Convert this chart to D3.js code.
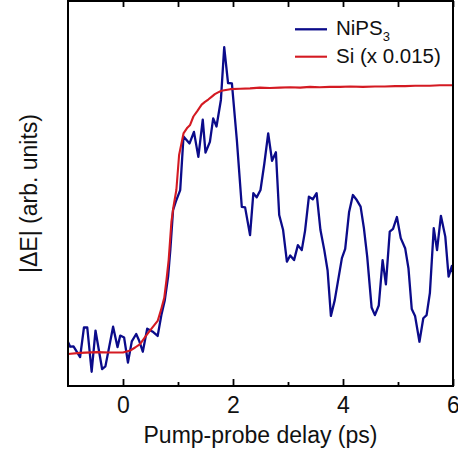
<!DOCTYPE html>
<html>
<head>
<meta charset="utf-8">
<script src="https://cdn.jsdelivr.net/npm/d3@7"></script>
<style>
  html, body { margin: 0; padding: 0; background: #fff; }
  svg { display: block; font-family: "Liberation Sans", Arial, Helvetica, sans-serif; }
</style>
</head>
<body>
<svg id="chart" width="458" height="456"></svg>
<script>
// ---- data ----
const nipsDelay = [-1.00,-0.96,-0.90,-0.78,-0.71,-0.65,-0.57,-0.50,-0.38,-0.32,-0.18,-0.10,-0.05,0.02,0.09,0.16,0.24,0.29,0.36,0.44,0.55,0.63,0.70,0.76,0.82,0.86,0.91,0.96,1.04,1.10,1.21,1.29,1.37,1.45,1.50,1.58,1.64,1.70,1.78,1.84,1.91,1.98,2.07,2.16,2.22,2.31,2.37,2.43,2.50,2.57,2.64,2.71,2.78,2.84,2.91,2.98,3.04,3.11,3.18,3.25,3.31,3.38,3.45,3.52,3.59,3.66,3.72,3.78,3.85,3.98,4.04,4.11,4.18,4.25,4.32,4.38,4.44,4.52,4.58,4.65,4.72,4.78,4.85,4.91,4.98,5.05,5.13,5.19,5.25,5.31,5.39,5.46,5.52,5.58,5.65,5.71,5.78,5.86,5.92,5.98,6.02];
const nipsSignal = [11.4,10.2,10.3,7.5,15.2,15.2,3.7,14.4,4.4,5.1,15.4,10.1,13.1,12.6,6.1,11.6,13.5,11.9,8.9,14.9,14.0,13.0,18.6,22.3,28.4,35.3,45.7,47.9,50.9,64.8,63.0,66.0,59.5,69.2,60.6,63.4,69.5,67.4,74.3,88.0,78.7,78.6,63.9,46.5,46.4,39.2,50.1,49.0,50.9,57.8,65.6,58.5,60.7,44.4,40.6,32.3,33.9,32.7,36.6,35.3,40.3,49.2,48.5,50.1,40.5,35.3,30.0,18.2,22.3,33.2,35.6,45.1,49.6,48.3,46.6,41.0,33.6,20.4,18.4,20.9,32.7,26.4,40.1,40.8,43.9,38.4,35.8,30.6,20.0,18.2,11.5,17.6,18.4,24.2,41.0,35.3,44.2,38.8,28.4,31.2,27.5];

const siDelay = [-1.00,-0.78,-0.47,-0.24,0.00,0.13,0.22,0.31,0.42,0.54,0.63,0.69,0.75,0.79,0.83,0.88,0.92,0.97,1.02,1.10,1.17,1.22,1.28,1.35,1.43,1.49,1.55,1.61,1.67,1.72,1.79,1.87,1.95,2.13,2.31,2.49,2.67,2.85,3.04,3.22,3.40,3.58,3.76,3.95,4.13,4.36,4.58,4.76,4.95,5.13,5.31,5.58,5.76,6.00];
const siSignal = [8.3,8.6,8.8,8.7,8.7,9.2,10.0,10.9,13.1,15.3,16.9,19.7,22.9,27.5,32.7,42.6,46.8,50.9,60.0,65.6,67.1,67.8,70.0,71.4,73.1,73.8,74.4,75.1,75.8,76.2,76.7,76.9,77.1,77.2,77.3,77.5,77.4,77.5,77.6,77.5,77.7,77.6,77.7,77.7,77.8,77.7,77.8,77.8,77.9,77.9,78.0,78.0,78.1,78.1];

const majorTicks = [0, 2, 4, 6];
const minorTicks = [1, 3, 5];
const topTicks = [0, 1, 2, 3, 4, 5, 6];
const xTitle = "Pump-probe delay (ps)";
const yTitle = "|\u0394E| (arb. units)";
const seriesNames = ["NiPS", "Si (x 0.015)"];

// ---- layout ----
const L = 68, R = 453, T = 1, B = 386;
const blue = "#0b0b8a", red = "#d41a22";

const svg = d3.select("#chart");
const x = d3.scaleLinear().domain([-1, 6]).range([L, R]);
const y = d3.scaleLinear().domain([0, 100]).range([B, T]);

svg.append("defs").append("clipPath").attr("id", "clip")
  .append("rect").attr("x", L).attr("y", T).attr("width", R - L).attr("height", B - T);

// series
const line = d3.line().x(d => x(d[0])).y(d => y(d[1]));
const nips = nipsDelay.map((d, i) => [d, nipsSignal[i]]);
const si = siDelay.map((d, i) => [d, siSignal[i]]);

const g = svg.append("g").attr("clip-path", "url(#clip)");
g.append("path").datum(nips).attr("d", line)
  .attr("fill", "none").attr("stroke", blue).attr("stroke-width", 2.3).attr("stroke-linejoin", "round");
g.append("path").datum(si).attr("d", line)
  .attr("fill", "none").attr("stroke", red).attr("stroke-width", 2.1).attr("stroke-linejoin", "round");

// axes
const bottomMajor = d3.axisBottom(x).tickValues(majorTicks).tickSizeInner(-7).tickSizeOuter(0)
  .tickPadding(10.5).tickFormat(d3.format("d"));
const gb = svg.append("g").attr("transform", `translate(0,${B})`).call(bottomMajor);
gb.select(".domain").remove();
gb.selectAll("line").attr("stroke", "#000").attr("stroke-width", 1.8);
gb.selectAll("text").attr("font-size", 23).attr("fill", "#111")
  .attr("font-family", "'Liberation Sans', Arial, Helvetica, sans-serif");

const bottomMinor = d3.axisBottom(x).tickValues(minorTicks).tickSizeInner(-4).tickSizeOuter(0).tickFormat("");
const gm = svg.append("g").attr("transform", `translate(0,${B})`).call(bottomMinor);
gm.select(".domain").remove();
gm.selectAll("line").attr("stroke", "#000").attr("stroke-width", 1.8);

const topAxis = d3.axisTop(x).tickValues(topTicks).tickSizeInner(-6).tickSizeOuter(0).tickFormat("");
const gt = svg.append("g").attr("transform", `translate(0,${T})`).call(topAxis);
gt.select(".domain").remove();
gt.selectAll("line").attr("stroke", "#000").attr("stroke-width", 1.8);

// frame
svg.append("rect").attr("x", L).attr("y", T).attr("width", R - L).attr("height", B - T)
  .attr("fill", "none").attr("stroke", "#000").attr("stroke-width", 2);

// titles
svg.append("text").attr("x", (L + R) / 2).attr("y", 443).attr("text-anchor", "middle")
  .attr("font-size", 23).attr("fill", "#111").text(xTitle);
svg.append("text").attr("transform", `translate(37,${(T + B) / 2}) rotate(-90)`)
  .attr("text-anchor", "middle").attr("font-size", 23).attr("fill", "#111").text(yTitle);

// legend
const leg = svg.append("g");
leg.append("line").attr("x1", 295).attr("x2", 327).attr("y1", 29.3).attr("y2", 29.3)
  .attr("stroke", blue).attr("stroke-width", 2.3);
const t1 = leg.append("text").attr("x", 336).attr("y", 35).attr("font-size", 20.5).attr("fill", "#111");
t1.append("tspan").text(seriesNames[0]);
t1.append("tspan").attr("font-size", 13).attr("dy", 5.5).text("3");
leg.append("line").attr("x1", 295).attr("x2", 327).attr("y1", 56.7).attr("y2", 56.7)
  .attr("stroke", red).attr("stroke-width", 2.1);
leg.append("text").attr("x", 336).attr("y", 63.3).attr("font-size", 20.5).attr("fill", "#111")
  .text(seriesNames[1]);
</script>
</body>
</html>
